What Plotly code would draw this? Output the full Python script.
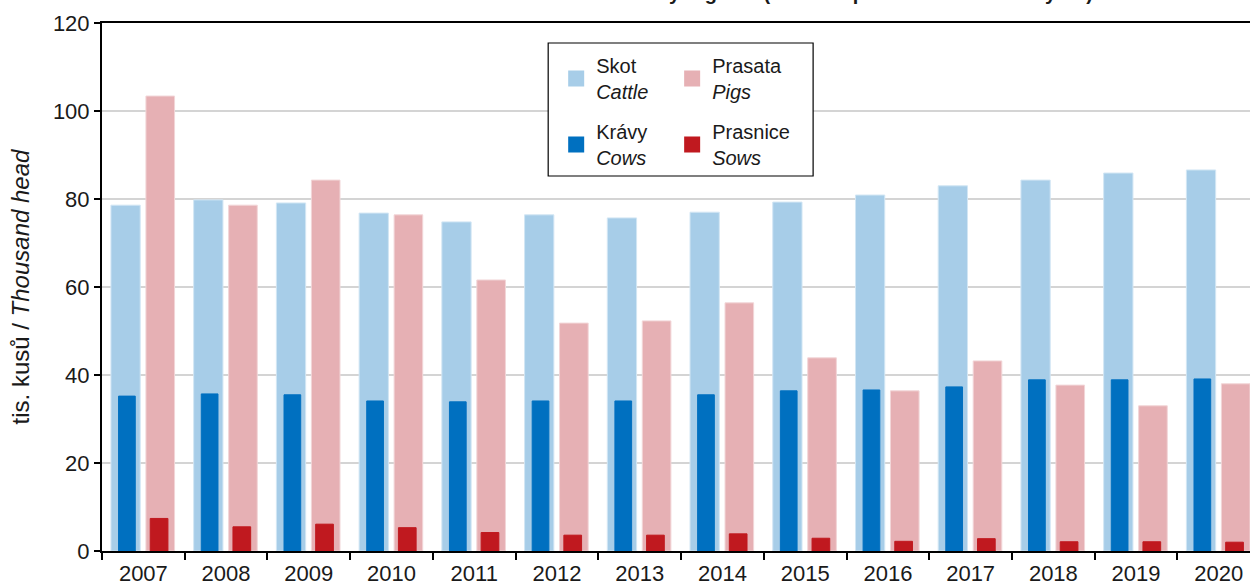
import plotly.graph_objects as go

years = [str(y) for y in range(2007, 2021)]
cattle = [78.6, 79.8, 79.1, 76.8, 74.8, 76.4, 75.7, 77.0, 79.3, 80.9, 83.0, 84.3, 85.9, 86.6]
cows = [35.2, 35.7, 35.5, 34.1, 33.9, 34.1, 34.1, 35.5, 36.4, 36.6, 37.3, 38.9, 38.9, 39.1]
pigs = [103.4, 78.6, 84.3, 76.4, 61.6, 51.8, 52.3, 56.4, 43.9, 36.4, 43.2, 37.7, 33.0, 38.0]
sows = [7.4, 5.5, 6.1, 5.3, 4.2, 3.6, 3.6, 3.9, 2.9, 2.2, 2.8, 2.1, 2.1, 2.0]

names = ["Skot<br><i>Cattle</i>", "Krávy<br><i>Cows</i>",
         "Prasata<br><i>Pigs</i>", "Prasnice<br><i>Sows</i>"]
colors = ["#a7cde8", "#0070c0", "#e6b0b4", "#c0191f"]
outline = ["#d2e6f4", "#0070c0", "#f2d6d8", "#c0191f"]
series = [cattle, cows, pigs, sows]
widths = [0.354, 0.202, 0.346, 0.214]
offsets = [-0.392, -0.300, 0.031, 0.083]
legends = ["legend", "legend", "legend2", "legend2"]

FONT = "Liberation Sans, Arial, sans-serif"
fig = go.Figure()
for i in range(4):
    fig.add_trace(go.Bar(
        x=years, y=series[i], width=widths[i], offset=offsets[i],
        marker=dict(color=colors[i], line=dict(color=outline[i], width=1)),
        showlegend=False, legendgroup=f"g{i}", name=names[i].replace("<br>", " "),
    ))
for i in range(4):
    fig.add_trace(go.Scatter(
        x=[None], y=[None], mode="markers", name=names[i],
        marker=dict(symbol="square", size=16, color=colors[i]),
        legend=legends[i], legendgroup=f"g{i}", showlegend=True,
    ))

L, T, W, H = 101.7, 23, 1148.3, 528

def px(x):
    return (x - L) / W

def py(y):
    return 1 - (y - T) / H

fig.update_layout(
    width=1250, height=586,
    margin=dict(l=L, r=0, t=T, b=586 - T - H),
    paper_bgcolor="white", plot_bgcolor="white",
    barmode="overlay",
    font=dict(family=FONT, size=20, color="#1a1a1a"),
    xaxis=dict(
        type="category", range=[-0.5, 13.377], tickson="boundaries",
        ticks="outside", ticklen=7, tickwidth=2, tickcolor="black",
        showline=True, linecolor="black", linewidth=2, mirror=True,
        showgrid=False, tickfont=dict(size=22), automargin=False,
        ticklabelstandoff=2,
    ),
    yaxis=dict(
        range=[0, 120], dtick=20, ticks="outside", ticklen=6, tickwidth=2,
        tickcolor="black", showline=True, linecolor="black", linewidth=2,
        showgrid=True, gridcolor="#d4d4d4", gridwidth=1.5, zeroline=False,
        tickfont=dict(size=22), automargin=False,
        title=dict(text="tis. kusů / <i>Thousand head</i>", font=dict(size=24), standoff=16),
    ),
    legend=dict(
        x=px(556), y=py(46), xanchor="left", yanchor="top",
        bgcolor="rgba(0,0,0,0)", borderwidth=0, font=dict(size=20),
        tracegroupgap=11, traceorder="grouped",
    ),
    legend2=dict(
        x=px(672), y=py(46), xanchor="left", yanchor="top",
        bgcolor="rgba(0,0,0,0)", borderwidth=0, font=dict(size=20),
        tracegroupgap=11, traceorder="grouped",
    ),
    shapes=[dict(
        type="rect", xref="paper", yref="paper",
        x0=px(548), x1=px(813), y0=py(176), y1=py(43),
        line=dict(color="black", width=1.2), fillcolor="white", layer="above",
    )],
    annotations=[dict(
        text="<b>Livestock by regions (as of 1 April of the reference year)</b>",
        xref="paper", yref="paper", x=px(1095), y=1 + (T + 7) / H,
        xanchor="right", yanchor="middle", showarrow=False,
        font=dict(size=20, color="#1a1a1a"),
    )],
)

fig.write_html(
    "out.html",
    config={"displayModeBar": False},
    post_script="document.body.style.margin='0';document.body.style.overflow='hidden';",
)
